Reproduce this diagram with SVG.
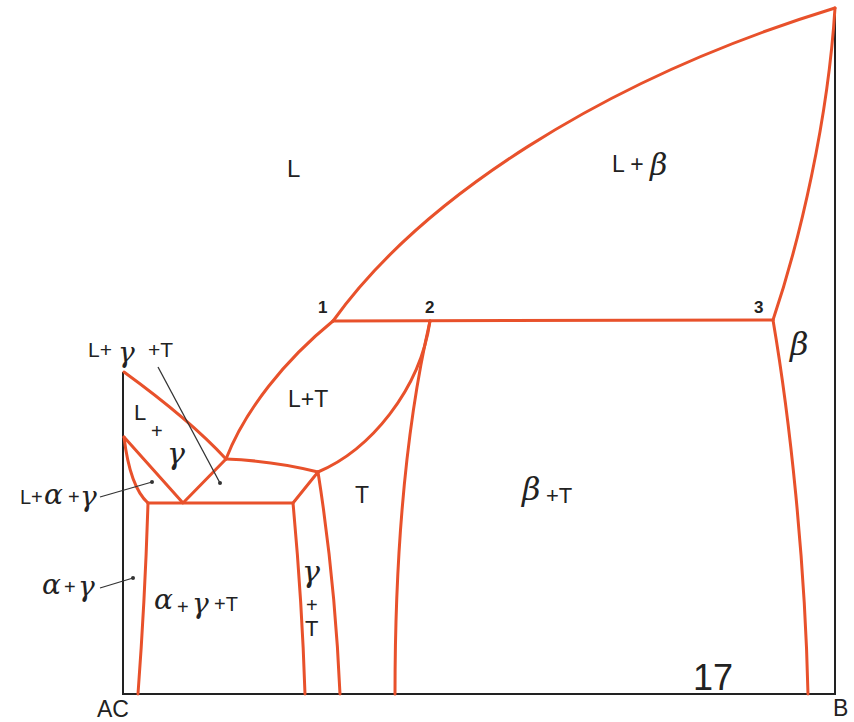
<svg xmlns="http://www.w3.org/2000/svg" width="854" height="722" viewBox="0 0 854 722">
<style>
.r{fill:none;stroke:#e8512b;stroke-width:3;stroke-linejoin:round;stroke-linecap:round}
.k{fill:none;stroke:#222;stroke-width:2}
.l{fill:none;stroke:#333;stroke-width:1.3}
.t{font-family:"Liberation Sans",Arial,sans-serif;fill:#222}
.g{font-family:"DejaVu Serif","Liberation Serif",serif;font-style:italic;fill:#222}
.n{font-family:"Liberation Sans",Arial,sans-serif;font-weight:bold;font-size:17px;fill:#222}
</style>
<rect width="854" height="722" fill="#fff"/>
<g id="frame">
<path class="k" d="M123,372 L123,694 L835,694 L835,8"/>
</g>
<g id="connectors">
<path class="r" d="M333,321 C420,200 600,80 835,8"/>
<path class="r" d="M835,8 C828,120 800,240 773,320"/>
<path class="r" d="M333,321 L773,320"/>
<path class="r" d="M773,320 C790,420 805,560 808,694"/>
<path class="r" d="M430,321 C405,430 395,560 395,694"/>
<path class="r" d="M430,321 C420,390 370,450 318,472"/>
<path class="r" d="M333,321 C285,360 245,410 226,459"/>
<path class="r" d="M226,459 Q275,461 318,472"/>
<path class="r" d="M124,372 Q190,420 226,459"/>
<path class="r" d="M124,437 L183,503 L226,459"/>
<path class="r" d="M124,437 Q130,487 148,503"/>
<path class="r" d="M148,503 L293,503 L318,472"/>
<path class="r" d="M148,503 Q145,600 138,694"/>
<path class="r" d="M293,503 Q302,600 305,694"/>
<path class="r" d="M318,472 Q335,580 340,694"/>
<path class="l" d="M158,367 L220,483"/>
<circle cx="220" cy="483" r="2" fill="#333"/>
<path class="l" d="M100,497 L152,482"/>
<circle cx="152" cy="482" r="2" fill="#333"/>
<path class="l" d="M100,588 L133,578"/>
<circle cx="133" cy="578" r="2" fill="#333"/>
</g>
<g id="labels">
<text class="t" x="287" y="177" font-size="24">L</text>
<text class="t" x="612" y="172" font-size="23">L +</text>
<text class="g" x="650" y="175" font-size="30">β</text>
<text class="n" x="318" y="313">1</text>
<text class="n" x="425" y="313">2</text>
<text class="n" x="754" y="313">3</text>
<text class="g" x="790" y="355" font-size="32">β</text>
<text class="t" x="288" y="407" font-size="23">L+T</text>
<text class="t" x="355" y="503" font-size="23">T</text>
<text class="g" x="522" y="500" font-size="32">β</text>
<text class="t" x="546" y="503" font-size="22">+T</text>
<text class="t" x="88" y="357" font-size="21">L+</text>
<text class="g" x="118" y="362" font-size="28">γ</text>
<text class="t" x="148" y="357" font-size="21">+T</text>
<text class="t" x="134" y="420" font-size="22">L</text>
<text class="t" x="151" y="438" font-size="20">+</text>
<text class="g" x="167" y="464" font-size="30">γ</text>
<text class="t" x="20" y="504" font-size="20">L+</text>
<text class="g" x="44" y="504" font-size="28">α</text>
<text class="t" x="68" y="504" font-size="20">+</text>
<text class="g" x="80" y="506" font-size="28">γ</text>
<text class="g" x="42" y="594" font-size="28">α</text>
<text class="t" x="64" y="594" font-size="20">+</text>
<text class="g" x="78" y="596" font-size="28">γ</text>
<text class="g" x="154" y="609" font-size="28">α</text>
<text class="t" x="177" y="614" font-size="20">+</text>
<text class="g" x="192" y="613" font-size="28">γ</text>
<text class="t" x="214" y="611" font-size="20">+T</text>
<text class="g" x="302" y="582" font-size="30">γ</text>
<text class="t" x="306" y="612" font-size="20">+</text>
<text class="t" x="305" y="636" font-size="22">T</text>
<text class="t" x="693" y="690" font-size="36" font-weight="300">17</text>
<text class="t" x="97" y="717" font-size="23">AC</text>
<text class="t" x="833" y="716" font-size="23">B</text>
</g>
</svg>
